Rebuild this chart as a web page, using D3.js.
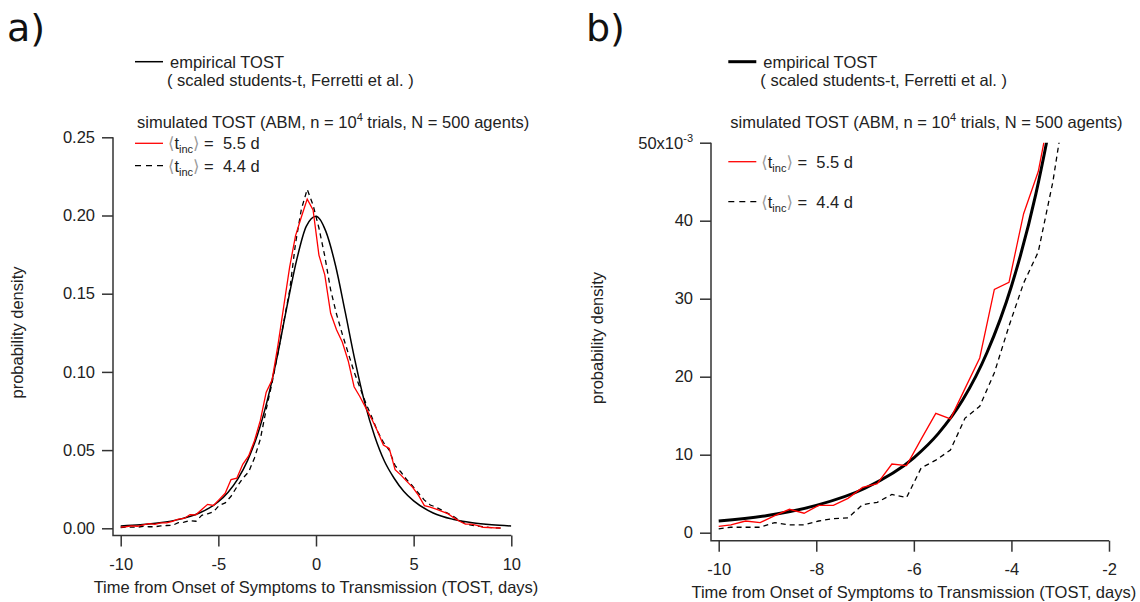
<!DOCTYPE html>
<html>
<head>
<meta charset="utf-8">
<script src="https://cdn.jsdelivr.net/npm/d3@7"></script>
<style>
  body { margin: 0; background: #fff; }
  svg { font-family: "Liberation Sans", Arial, sans-serif; }
  .axis text { font-size: 16.5px; fill: #222; }
  .axis line { stroke: #333; stroke-width: 1.5; }
</style>
</head>
<body>
<svg id="chart" width="1140" height="602"></svg>
<script>
// empirical TOST (scaled students-t)
const empX = [-10, -9, -8, -7, -6, -5.5, -5, -4.5, -4, -3.5, -3.25, -3, -2.5, -2, -1.5, -1, -0.5,
  0, 0.5, 1, 1.5, 2, 2.5, 3, 3.5, 4, 4.5, 5, 6, 7, 8, 9, 10];
const empY = [0.0015, 0.0022, 0.0035, 0.0057, 0.0096, 0.0127, 0.0170, 0.0231, 0.0316, 0.0434, 0.0510, 0.0597,
  0.0815, 0.1090, 0.1410, 0.1710, 0.1930, 0.1995, 0.1900, 0.1680, 0.1380, 0.1070, 0.0800, 0.0590,
  0.0430, 0.0320, 0.0235, 0.0175, 0.0098, 0.0058, 0.0036, 0.0023, 0.0015];

// simulated TOST bins (days)
const simX = [-10, -9.75, -9.45, -9.15, -8.85, -8.55, -8.25, -7.95, -7.65, -7.35, -7.05, -6.75, -6.45, -6.15,
  -5.85, -5.55, -5.25, -4.95, -4.65, -4.35, -4.05, -3.75, -3.45, -3.15, -2.85, -2.55, -2.25, -1.95,
  -1.65, -1.35, -1.05, -0.75, -0.45, -0.15, 0.15, 0.45, 0.75, 1.05, 1.35, 1.65, 1.95, 2.25, 2.55,
  2.85, 3.15, 3.45, 3.75, 4.05, 4.35, 4.65, 4.95, 5.25, 5.55, 5.85, 6.15, 6.45, 6.75, 7.05, 7.35,
  7.65, 7.95, 8.25, 8.55, 8.85, 9.15, 9.45];

// <t_inc> = 5.5 d (red)
const sim55 = [0.0008, 0.0010, 0.0015, 0.0013, 0.0022, 0.0030, 0.0025, 0.0035, 0.0035, 0.0044, 0.0058, 0.0063,
  0.0088, 0.0086, 0.0120, 0.0153, 0.0146, 0.0185, 0.0224, 0.0312, 0.0321, 0.0409, 0.0463, 0.0560,
  0.0690, 0.0870, 0.0948, 0.1170, 0.1420, 0.1670, 0.1870, 0.1990, 0.2105, 0.2035, 0.1747, 0.1620,
  0.1375, 0.1270, 0.1190, 0.1070, 0.0905, 0.0841, 0.0770, 0.0700, 0.0620, 0.0533, 0.0511, 0.0375,
  0.0340, 0.0300, 0.0262, 0.0210, 0.0145, 0.0135, 0.0122, 0.0108, 0.0094, 0.0068, 0.0045, 0.0027,
  0.0027, 0.0018, 0.0006, 0.0005, 0.0003, 0.0002];

// <t_inc> = 4.4 d (dashed)
const sim44 = [0.0005, 0.0007, 0.0007, 0.0007, 0.0013, 0.0010, 0.0010, 0.0015, 0.0018, 0.0019, 0.0036, 0.0039,
  0.0049, 0.0045, 0.0083, 0.0093, 0.0106, 0.0147, 0.0162, 0.0205, 0.0265, 0.0320, 0.0360, 0.0450,
  0.0570, 0.0760, 0.0930, 0.1120, 0.1320, 0.1520, 0.1820, 0.2040, 0.2167, 0.2067, 0.1920, 0.1740,
  0.1525, 0.1370, 0.1240, 0.1120, 0.1000, 0.0900, 0.0800, 0.0714, 0.0620, 0.0550, 0.0500, 0.0400,
  0.0360, 0.0310, 0.0270, 0.0224, 0.0180, 0.0149, 0.0135, 0.0115, 0.0095, 0.0075, 0.0050, 0.0030,
  0.0020, 0.0015, 0.0010, 0.0006, 0.0003, 0.0001];

const xTitle = "Time from Onset of Symptoms to Transmission (TOST, days)";
const yTitle = "probability density";

const empirical = empX.map((x, i) => ({ x, y: empY[i] }));
const red = simX.map((x, i) => ({ x, y: sim55[i] }));
const dashed = simX.map((x, i) => ({ x, y: sim44[i] }));

const svg = d3.select("#chart");
const FS = 16.5;

const panels = [
  {
    id: "a", label: "a)", labelX: 7,
    x: d3.scaleLinear().domain([-10, 10]).range([120.7, 511.3]),
    y: d3.scaleLinear().domain([0, 0.25]).range([528.3, 137.3]),
    axisX: 113, axisY: 535.5,
    xTicks: [-10, -5, 0, 5, 10],
    yTicks: [0, 0.05, 0.1, 0.15, 0.2, 0.25],
    yFmt: d3.format(".2f"),
    empWidth: 1.5,
    yTitleX: 22.5, yTitleY: 332.5,
    legX: 135, redY: 143.3, dashY: 165.7
  },
  {
    id: "b", label: "b)", labelX: 586,
    x: d3.scaleLinear().domain([-10, -2]).range([718.7, 1109]),
    y: d3.scaleLinear().domain([0, 0.05]).range([532.7, 142.7]),
    axisX: 711, axisY: 540.7,
    xTicks: [-10, -8, -6, -4, -2],
    yTicks: [0, 0.01, 0.02, 0.03, 0.04, 0.05],
    yFmt: d => d >= 0.05 ? "" : String(Math.round(d * 1000)),
    empWidth: 3,
    yTitleX: 602.5, yTitleY: 338,
    legX: 728.3, redY: 161.7, dashY: 201.7
  }
];

panels.forEach(p => {
  const g = svg.append("g");

  // panel letter
  g.append("text")
    .attr("x", p.labelX).attr("y", 41)
    .attr("font-family", "DejaVu Sans")
    .attr("font-size", 38).attr("fill", "#111")
    .text(p.label);

  // clip to plot area
  const [x0, x1] = [p.axisX, p.x.range()[1]];
  const top = p.y.range()[1];
  g.append("clipPath").attr("id", "clip-" + p.id)
    .append("rect")
    .attr("x", x0).attr("y", top)
    .attr("width", x1 - x0).attr("height", p.axisY - top);

  // axes (hyphen minus like the original, not the unicode minus)
  const gy = g.append("g").attr("class", "axis")
    .attr("transform", `translate(${p.axisX},0)`)
    .call(d3.axisLeft(p.y).tickValues(p.yTicks).tickSize(11).tickPadding(7).tickFormat(p.yFmt));
  gy.select(".domain").remove();

  const gx = g.append("g").attr("class", "axis")
    .attr("transform", `translate(0,${p.axisY})`)
    .call(d3.axisBottom(p.x).tickValues(p.xTicks).tickSize(11).tickPadding(12).tickFormat(d => String(d)));
  gx.select(".domain").remove();

  g.append("path")
    .attr("d", `M${p.axisX},${top}V${p.axisY}H${x1}`)
    .attr("fill", "none").attr("stroke", "#333").attr("stroke-width", 1.5);

  // 50x10^-3 label on panel b
  if (p.id === "b") {
    const t = g.append("text")
      .attr("x", p.axisX - 18).attr("y", top + 5.9)
      .attr("text-anchor", "end").attr("font-size", FS).attr("fill", "#222");
    t.append("tspan").text("50x10");
    t.append("tspan").attr("font-size", 11).attr("dy", -7).text("-3");
  }

  // axis titles
  g.append("text")
    .attr("x", (p.x.range()[0] + p.x.range()[1]) / 2)
    .attr("y", p.axisY + 57)
    .attr("text-anchor", "middle").attr("font-size", FS).attr("fill", "#222")
    .text(xTitle);

  g.append("text")
    .attr("transform", `translate(${p.yTitleX},${p.yTitleY}) rotate(-90)`)
    .attr("text-anchor", "middle").attr("font-size", FS).attr("fill", "#222")
    .text(yTitle);

  // curves
  const lineSmooth = d3.line().x(d => p.x(d.x)).y(d => p.y(d.y)).curve(d3.curveMonotoneX);
  const lineStraight = d3.line().x(d => p.x(d.x)).y(d => p.y(d.y));

  const plot = g.append("g").attr("clip-path", `url(#clip-${p.id})`);

  plot.append("path").datum(dashed)
    .attr("d", lineStraight)
    .attr("fill", "none").attr("stroke", "#000")
    .attr("stroke-width", 1.3).attr("stroke-dasharray", "5,4");

  plot.append("path").datum(empirical)
    .attr("d", lineSmooth)
    .attr("fill", "none").attr("stroke", "#000")
    .attr("stroke-width", p.empWidth);

  plot.append("path").datum(red)
    .attr("d", lineStraight)
    .attr("fill", "none").attr("stroke", "#f00")
    .attr("stroke-width", 1.3);

  // legend
  const L = p.legX;
  const lg = g.append("g").attr("font-size", FS).attr("fill", "#222");

  lg.append("line")
    .attr("x1", L).attr("x2", L + 28).attr("y1", 61.7).attr("y2", 61.7)
    .attr("stroke", "#000").attr("stroke-width", p.empWidth);
  lg.append("text").attr("x", L + 35).attr("y", 67.6).text("empirical TOST");
  lg.append("text").attr("x", L + 32).attr("y", 85.9).style("white-space", "pre")
    .text("( scaled students-t, Ferretti et al. )");

  const sim = lg.append("text").attr("x", L + 2).attr("y", 127.6);
  sim.append("tspan").text("simulated TOST (ABM, n = 10");
  sim.append("tspan").attr("font-size", 11).attr("dy", -7).text("4");
  sim.append("tspan").attr("dy", 7).text(" trials, N = 500 agents)");

  const tinc = (y, val) => {
    const t = lg.append("text").attr("x", L + 33).attr("y", y + 5.9).style("white-space", "pre");
    t.append("tspan").attr("fill", "#999").attr("font-family", "DejaVu Sans").text("\u27E8");
    t.append("tspan").text("t");
    t.append("tspan").attr("font-size", 11).attr("dy", 4).text("inc");
    t.append("tspan").attr("dy", -4).attr("fill", "#999").attr("font-family", "DejaVu Sans").text("\u27E9");
    t.append("tspan").text(" =  " + val + " d");
  };

  lg.append("line")
    .attr("x1", L).attr("x2", L + 28).attr("y1", p.redY).attr("y2", p.redY)
    .attr("stroke", "#f00").attr("stroke-width", 1.3);
  tinc(p.redY, "5.5");

  lg.append("line")
    .attr("x1", L).attr("x2", L + 28).attr("y1", p.dashY).attr("y2", p.dashY)
    .attr("stroke", "#000").attr("stroke-width", 1.3).attr("stroke-dasharray", "6,5");
  tinc(p.dashY, "4.4");
});
</script>
</body>
</html>
